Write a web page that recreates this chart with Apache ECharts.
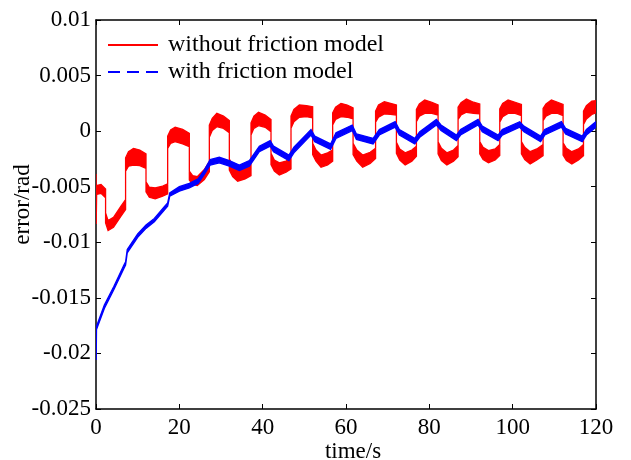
<!DOCTYPE html>
<html><head><meta charset="utf-8">
<script src="https://cdn.jsdelivr.net/npm/echarts@6/dist/echarts.min.js"></script>
<style>html,body{margin:0;padding:0;background:#fff}#c{width:631px;height:460px}</style>
</head><body><div id="c"></div>
<script>
const seriesNames = ['without friction model', 'with friction model'];
const xTicks = [0, 20, 40, 60, 80, 100, 120];
const yTicks = [-0.025, -0.02, -0.015, -0.01, -0.005, 0, 0.005, 0.01];
const yTickLabels = ['-0.025', '-0.02', '-0.015', '-0.01', '-0.005', '0', '0.005', '0.01'];

// red: without friction model  (time, centre value, noise band width)
const redT = [0,0.05,0.15,1.2,2.3, 2.3,2.9,4.2,6.0,7.1, 7.1,7.8,9.0,10.5,12.0, 12.0,12.8,14.2,16.0,17.2,
  17.2,17.9,19.0,20.8,22.4, 22.4,23.2,24.3,26.0,27.2, 27.2,27.9,29.0,30.6,32.0, 32.0,32.8,34.0,35.8,37.2,
  37.2,37.9,39.0,40.6,42.0, 42.0,42.8,44.0,45.6,46.8, 46.8,47.5,48.8,50.5,52.0, 52.0,52.8,54.0,55.6,56.8,
  56.8,57.5,58.8,60.3,61.7, 61.7,62.6,64.0,65.8,67.1, 67.1,67.8,69.2,70.7,72.1, 72.1,72.9,74.2,75.8,76.9,
  76.9,77.6,78.9,80.6,82.1, 82.1,82.9,84.2,85.8,86.9, 86.9,87.6,88.9,90.6,92.1, 92.1,92.9,94.2,95.8,96.9,
  96.9,97.6,98.9,100.6,102.1, 102.1,102.9,104.2,105.8,107.3, 107.3,108.0,109.3,110.8,112.1, 112.1,112.9,114.2,115.8,117.0,
  117.0,117.7,119.0,120.0];
const redV = [-0.0040,-0.0082,-0.0053,-0.0052,-0.0056, -0.0078,-0.0085,-0.0082,-0.0072,-0.0066,
  -0.0030,-0.0025,-0.0023,-0.0024,-0.0027, -0.0050,-0.0055,-0.0056,-0.0054,-0.0052,
  -0.0010,-0.0005,-0.0003,-0.0005,-0.0008, -0.0040,-0.0044,-0.0045,-0.0039,-0.0032,
  0.0000,0.0006,0.0010,0.0008,0.0004, -0.0030,-0.0036,-0.0040,-0.0038,-0.0035,
  0.0002,0.0008,0.0011,0.0009,0.0005, -0.0025,-0.0031,-0.0034,-0.0032,-0.0029,
  0.0008,0.0014,0.0018,0.0018,0.0017, -0.0016,-0.0022,-0.0027,-0.0025,-0.0022,
  0.0011,0.0016,0.0019,0.0018,0.0016, -0.0016,-0.0022,-0.0027,-0.0024,-0.0020,
  0.0013,0.0018,0.0021,0.0020,0.0019, -0.0015,-0.0021,-0.0025,-0.0022,-0.0018,
  0.0014,0.0019,0.0022,0.0021,0.0019, -0.0015,-0.0021,-0.0025,-0.0022,-0.0018,
  0.0016,0.0020,0.0023,0.0021,0.0020, -0.0015,-0.0020,-0.0023,-0.0021,-0.0017,
  0.0014,0.0019,0.0022,0.0021,0.0019, -0.0015,-0.0020,-0.0024,-0.0021,-0.0017,
  0.0015,0.0019,0.0022,0.0021,0.0019, -0.0016,-0.0021,-0.0024,-0.0021,-0.0017,
  0.0012,0.0017,0.0021,0.0022];
const redW = [0.0003,0.0003,0.0008,0.0008,0.0008, 0.0009,0.0009,0.0009,0.0009,0.0009,
  0.0012,0.0013,0.0015,0.0014,0.0013, 0.0009,0.0009,0.0010,0.0009,0.0009,
  0.0011,0.0012,0.0013,0.0013,0.0012, 0.0008,0.0008,0.0008,0.0009,0.0009,
  0.0011,0.0011,0.0012,0.0011,0.0011, 0.0010,0.0010,0.0010,0.0010,0.0010,
  0.0011,0.0011,0.0012,0.0011,0.0011, 0.0010,0.0010,0.0011,0.0010,0.0010,
  0.0011,0.0011,0.0011,0.0010,0.0010, 0.0010,0.0010,0.0011,0.0011,0.0010,
  0.0011,0.0011,0.0012,0.0011,0.0010, 0.0010,0.0010,0.0011,0.0010,0.0009,
  0.0010,0.0011,0.0011,0.0010,0.0009, 0.0010,0.0010,0.0011,0.0010,0.0009,
  0.0011,0.0011,0.0012,0.0010,0.0009, 0.0011,0.0011,0.0011,0.0010,0.0010,
  0.0011,0.0011,0.0012,0.0010,0.0009, 0.0011,0.0011,0.0011,0.0010,0.0010,
  0.0012,0.0012,0.0012,0.0010,0.0010, 0.0011,0.0011,0.0011,0.0010,0.0010,
  0.0011,0.0011,0.0012,0.0010,0.0010, 0.0011,0.0011,0.0011,0.0010,0.0010,
  0.0012,0.0012,0.0012,0.0011];

// blue: with friction model
const blueT = [0,0.05,0.12,2.0,4.3,6.7,7.1,7.5,10.0,12.0,14.0,16.5,17.2,17.7,20.0,22.4,24.5,26.0,27.4,29.6,
  32.0,34.4,36.8,39.2,41.8,42.6,46.3,47.5,51.6,52.5,56.3,57.6,61.5,62.5,66.5,68.0,71.8,72.8,76.5,77.7,
  81.7,82.8,86.5,87.5,91.7,92.7,96.5,97.5,101.7,102.7,106.7,107.7,111.7,112.7,116.7,117.7,120.0];
const blueV = [-0.0193,-0.0205,-0.0177,-0.0158,-0.0141,-0.0122,-0.0119,-0.0108,-0.0094,-0.0086,-0.0080,-0.0069,-0.0066,-0.0057,-0.0052,-0.0049,-0.0045,-0.0037,-0.0028,-0.0026,
  -0.0029,-0.0033,-0.0029,-0.0016,-0.0011,-0.0016,-0.0024,-0.0017,-0.0001,-0.0007,-0.0014,-0.0004,0.0003,-0.0005,-0.0009,-0.0001,0.0006,-0.0001,-0.0009,-0.0003,
  0.0008,0.0003,-0.0006,-0.0001,0.0008,0.0002,-0.0006,-0.0001,0.0006,0.0002,-0.0007,-0.0001,0.0006,0.0000,-0.0007,-0.0001,0.0006];
const blueW = [0.0002,0.0002,0.0003,0.0003,0.0003,0.0003,0.0003,0.0003,0.0003,0.0003,0.0003,0.0003,0.0003,0.0003,0.0004,0.0004,0.0004,0.0004,0.0005,0.0005,
  0.0005,0.0005,0.0005,0.0005,0.0005,0.0005,0.0005,0.0005,0.0005,0.0005,0.0005,0.0005,0.0005,0.0005,0.0005,0.0005,0.0005,0.0005,0.0005,0.0005,
  0.0005,0.0005,0.0005,0.0005,0.0005,0.0005,0.0005,0.0005,0.0005,0.0005,0.0005,0.0005,0.0005,0.0005,0.0005,0.0005,0.0005];

const FONT = 'Liberation Serif';
function bandRows(t, v, w) { return t.map((x, i) => [x, v[i] - w[i] / 2, v[i] + w[i] / 2]); }
function bandSeries(name, rows, color) {
  return {
    type: 'custom', name: name, data: rows, encode: { x: 0, y: [1, 2] }, clip: true,
    itemStyle: { color: color },
    renderItem: function (params, api) {
      if (params.dataIndex !== 0) return null;
      const up = rows.map(r => api.coord([r[0], r[2]]));
      const lo = rows.map(r => api.coord([r[0], r[1]])).reverse();
      return { type: 'polygon', silent: true, shape: { points: up.concat(lo) },
        style: { fill: color, stroke: color, lineWidth: 1.3 } };
    }
  };
}
const axisLine = { show: true, onZero: false, lineStyle: { color: '#000', width: 1.5 } };
const axisTick = { show: true, inside: true, length: 5, lineStyle: { color: '#000', width: 1 } };
const labelStyle = { fontFamily: FONT, fontSize: 23, color: '#000' };

const chart = echarts.init(document.getElementById('c'), null, { renderer: 'canvas' });
chart.setOption({
  animation: false,
  backgroundColor: '#fff',
  grid: { left: 96, right: 35, top: 20, bottom: 51, containLabel: false, outerBoundsMode: 'none' },
  legend: {
    orient: 'vertical', left: 103, top: 28, itemWidth: 50, itemHeight: 2, itemGap: 3,
    textStyle: { fontFamily: FONT, fontSize: 24, color: '#000', padding: [0, 0, 0, 5] },
    data: [
      { name: seriesNames[0], icon: 'path://M0,0H50V2H0Z' },
      { name: seriesNames[1], icon: 'path://M0,0H12V2H0Z M19,0H31V2H19Z M38,0H50V2H38Z' }
    ]
  },
  xAxis: [
    { type: 'value', position: 'bottom', min: xTicks[0], max: xTicks[xTicks.length - 1], interval: 20,
      axisLine: axisLine, axisTick: axisTick, splitLine: { show: false },
      axisLabel: Object.assign({ margin: 7, formatter: v => String(v) }, labelStyle),
      name: 'time/s', nameLocation: 'middle', nameGap: 31, nameMoveOverlap: false,
      nameTextStyle: Object.assign({ padding: [0, 0, 0, 14] }, labelStyle) },
    { type: 'value', position: 'top', min: xTicks[0], max: xTicks[xTicks.length - 1], interval: 20,
      axisLine: axisLine, axisTick: axisTick, splitLine: { show: false }, axisLabel: { show: false } }
  ],
  yAxis: [
    { type: 'value', position: 'left', min: yTicks[0], max: yTicks[yTicks.length - 1], interval: 0.005,
      axisLine: axisLine, axisTick: axisTick, splitLine: { show: false },
      axisLabel: Object.assign({ margin: 5, formatter: function (v) {
        const i = yTicks.findIndex(t => Math.abs(t - v) < 1e-9); return i >= 0 ? yTickLabels[i] : ''; } }, labelStyle),
      name: 'error/rad', nameLocation: 'middle', nameGap: 62, nameMoveOverlap: false,
      nameTextStyle: Object.assign({ padding: [0, 0, 0, 20] }, labelStyle) },
    { type: 'value', position: 'right', min: yTicks[0], max: yTicks[yTicks.length - 1], interval: 0.005,
      axisLine: axisLine, axisTick: axisTick, splitLine: { show: false }, axisLabel: { show: false } }
  ],
  series: [
    bandSeries(seriesNames[0], bandRows(redT, redV, redW), '#ff0000'),
    bandSeries(seriesNames[1], bandRows(blueT, blueV, blueW), '#0000ff')
  ]
});
</script></body></html>
